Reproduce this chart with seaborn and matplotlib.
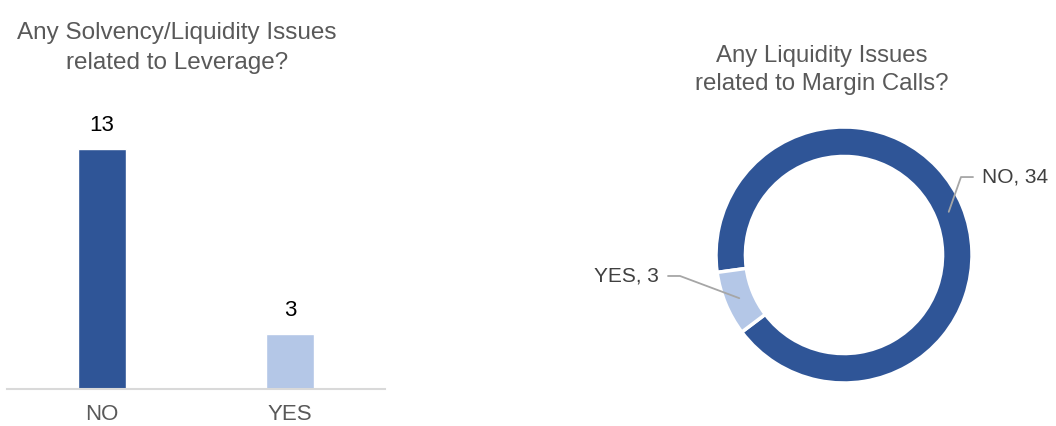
import matplotlib
matplotlib.use("Agg")
import matplotlib.pyplot as plt
import seaborn as sns
import numpy as np

# ---- data ----
bar_title = "Any Solvency/Liquidity Issues\nrelated to Leverage?"
bar_categories = ["NO", "YES"]
bar_values = [13, 3]

donut_title = "Any Liquidity Issues\nrelated to Margin Calls?"
donut_categories = ["NO", "YES"]
donut_values = [34, 3]

DARK = "#2F5597"
LIGHT = "#B4C7E7"
TXT = "#595959"
LBL = "#404040"

sns.set_theme(style="white")
plt.rcParams["font.family"] = ["Liberation Sans", "DejaVu Sans"]

W, H = 1056, 426
fig = plt.figure(figsize=(W / 100, H / 100), dpi=100)

def fx(px):
    return px / W

def fy(py):
    return 1 - py / H

# ---- bar chart ----
ax = fig.add_axes([fx(7), fy(389), fx(385 - 7), (389 - 110) / H])
sns.barplot(x=bar_categories, y=bar_values, hue=bar_categories,
            palette=[DARK, LIGHT], width=0.255, ax=ax, legend=False,
            saturation=1)
ax.set_xlim(-0.505, 1.505)
ax.set_ylim(0, 279 / 18.5)
for c in ax.containers:
    ax.bar_label(c, padding=9, fontsize=16, color="black")
for s in ["left", "right", "top"]:
    ax.spines[s].set_visible(False)
ax.spines["bottom"].set_color("#D9D9D9")
ax.spines["bottom"].set_linewidth(1.5)
ax.set_yticks([])
ax.tick_params(axis="x", length=0, pad=11, labelsize=16, labelcolor=TXT)
ax.set_xlabel("")
ax.set_ylabel("")

fig.text(fx(177), fy(48), bar_title, ha="center", va="center",
         fontsize=17.5, color=TXT, linespacing=1.45)

# ---- donut ----
cx, cy, R = 844, 255, 128
left_px, right_px = 560, 1056
pax = fig.add_axes([fx(left_px), fy(cy + 1.25 * R), fx(right_px - left_px), 2.5 * R / H])
ring = 0.23
wedges, _ = pax.pie(donut_values, colors=[DARK, LIGHT], startangle=217,
                    counterclock=True, radius=1,
                    wedgeprops=dict(width=ring, edgecolor="white", linewidth=2.5))
pax.set_xlim((left_px - cx) / R, (right_px - cx) / R)
pax.set_ylim(-1.25, 1.25)
pax.set_aspect("auto")
pax.axis("off")

lc = "#A6A6A6"
for w, cat, val in zip(wedges, donut_categories, donut_values):
    th = np.deg2rad((w.theta1 + w.theta2) / 2)
    rm = 1 - ring / 2
    x0, y0 = rm * np.cos(th), rm * np.sin(th)
    if np.cos(th) > 0:
        ex, ey = 0.914, 0.609
        hx = ex + 0.094
        tx, ha = hx + 0.07, "left"
    else:
        ex, ey = -1.281, -0.164
        hx = ex - 0.094
        tx, ha = hx - 0.07, "right"
    pax.plot([x0, ex, hx], [y0, ey, ey], color=lc, lw=1.3, clip_on=False)
    pax.text(tx, ey, f"{cat}, {val}", ha=ha, va="center", fontsize=15,
             color=LBL, clip_on=False)

fig.text(fx(822), fy(70), donut_title, ha="center", va="center",
         fontsize=17.3, color=TXT, linespacing=1.3)

fig.savefig("out.png", dpi=100, facecolor="white")
